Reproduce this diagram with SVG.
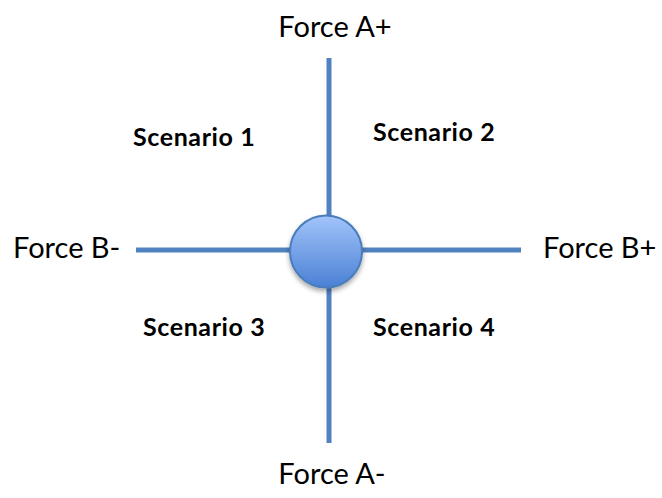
<svg xmlns="http://www.w3.org/2000/svg" width="662" height="498" viewBox="0 0 662 498">
<style>
.lbl{font-family:Lato,"Liberation Sans",sans-serif;font-size:29px;fill:#000}
.sc{font-family:Lato,"Liberation Sans",sans-serif;font-size:25px;font-weight:bold;fill:#000;letter-spacing:0.6px}
.axis{stroke:#5082C0;stroke-width:5;fill:none}
</style>
<defs>
<linearGradient id="g" x1="0" y1="0" x2="0" y2="1">
<stop offset="0" stop-color="#A3C4FA"/>
<stop offset="1" stop-color="#4A80D4"/>
</linearGradient>
<filter id="sh" x="-30%" y="-30%" width="160%" height="160%">
<feGaussianBlur in="SourceAlpha" stdDeviation="2.5"/>
<feOffset dx="0" dy="3" result="b"/>
<feComponentTransfer><feFuncA type="linear" slope="0.35"/></feComponentTransfer>
<feMerge><feMergeNode/><feMergeNode in="SourceGraphic"/></feMerge>
</filter>
</defs>
<g id="connectors">
<line class="axis" x1="329" y1="58" x2="329" y2="443"/>
<line class="axis" x1="136" y1="250" x2="521" y2="250"/>
</g>
<g id="center">
<circle cx="326" cy="251.5" r="36" fill="url(#g)" stroke="#4A7EBB" stroke-width="2" filter="url(#sh)"/>
</g>
<g id="forceAplus"><text class="lbl" x="335" y="37" text-anchor="middle">Force A+</text></g>
<g id="forceAminus"><text class="lbl" x="332" y="484" text-anchor="middle">Force A-</text></g>
<g id="forceBminus"><text class="lbl" x="13" y="258">Force B-</text></g>
<g id="forceBplus"><text class="lbl" x="543" y="258">Force B+</text></g>
<g id="s1"><text class="sc" x="133" y="146">Scenario 1</text></g>
<g id="s2"><text class="sc" x="373" y="141">Scenario 2</text></g>
<g id="s3"><text class="sc" x="143" y="336">Scenario 3</text></g>
<g id="s4"><text class="sc" x="373" y="336">Scenario 4</text></g>
</svg>
